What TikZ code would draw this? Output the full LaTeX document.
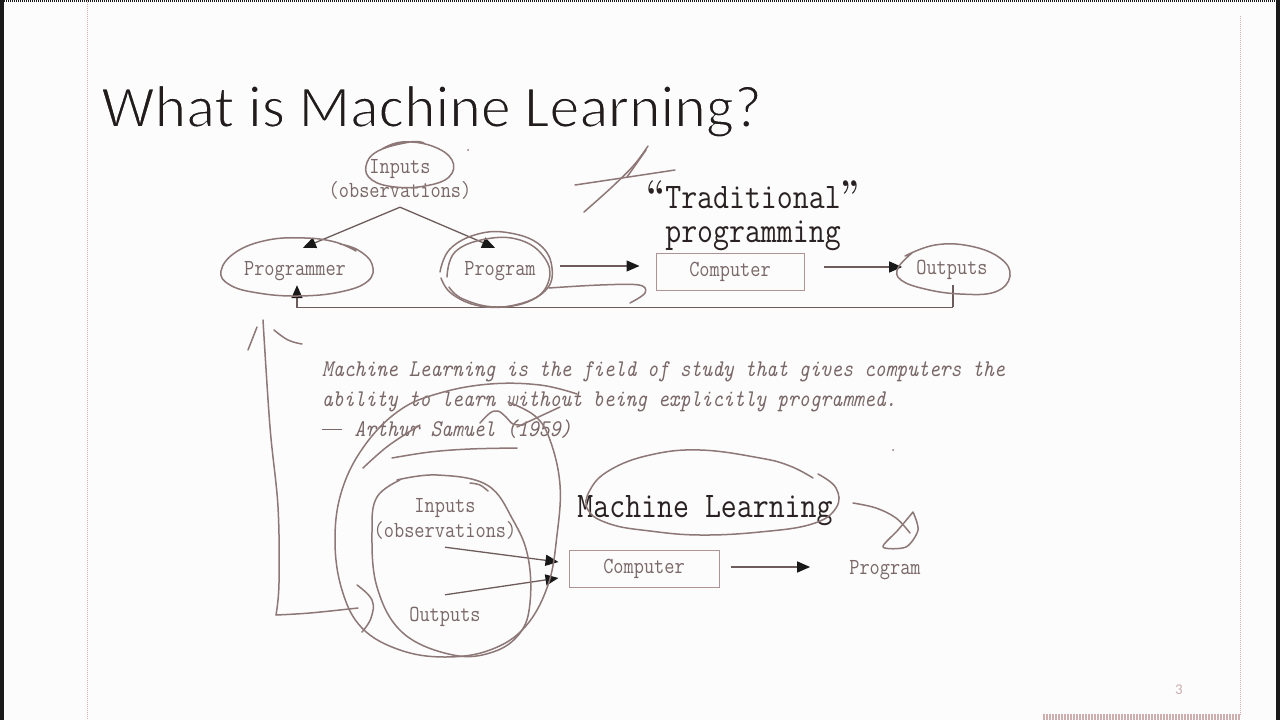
\documentclass[tikz,border=0pt]{standalone}
\usepackage{fontspec}
\newfontfamily\titlefont{Carlito}
\usetikzlibrary{arrows.meta,calc}

\definecolor{pagec}{HTML}{FCFCFC}
\definecolor{edgec}{HTML}{1A1A1A}
\definecolor{guidec}{HTML}{CDAFAF}
\definecolor{titlec}{HTML}{221C1C}
\definecolor{txtc}{HTML}{7A6868}
\definecolor{darkc}{HTML}{2A2222}
\definecolor{linec}{HTML}{6E5C5C}
\definecolor{boxc}{HTML}{AE9494}
\definecolor{penc}{HTML}{8E7777}

% horizontally condensed typewriter text
\newcommand\sqz[1]{\scalebox{0.86}[1]{#1}}
% light title weight: outline the glyphs in the page colour
\newcommand\thinglyphs[1]{%
  \special{pdf:literal direct 2 Tr 1.6 w 0.988 0.988 0.988 RG}#1%
  \special{pdf:literal direct 0 Tr}}
% heavy curly quotes
\newcommand\oquote{{\rmfamily\bfseries\fontsize{40}{40}\selectfont“}}
\newcommand\cquote{{\rmfamily\bfseries\fontsize{40}{40}\selectfont”}}

\begin{document}
\begin{tikzpicture}[x=1pt,y=-1pt,
  dtxt/.style={inner sep=0pt, text height=14pt, text depth=5pt, anchor=base,
    text=txtc, font=\ttfamily\fontsize{23}{26}\selectfont},
  bigtxt/.style={inner sep=0pt, anchor=base, text=darkc,
    font=\ttfamily\fontsize{36}{40}\selectfont},
  qtxt/.style={inner sep=0pt, anchor=base west, text=txtc,
    font=\ttfamily\itshape\fontsize{24}{28}\selectfont},
  compbox/.style={draw=boxc, line width=1pt, inner sep=0pt, text=txtc,
    font=\ttfamily\fontsize{23}{26}\selectfont},
  conn/.style={draw=linec, line width=1.3pt,
    -{Triangle[length=13pt,width=11pt,color=black!90]}},
  feed/.style={draw=linec, line width=1.3pt},
  pen/.style={draw=penc, line width=1.5pt, line cap=round, line join=round},
]
\useasboundingbox (0,0) rectangle (1280,720);

% page, window edges and slide guides
\fill[pagec] (0,0) rectangle (1280,720);
\fill[edgec] (0,0) rectangle (4,720);
\fill[edgec] (1276,0) rectangle (1280,720);
\draw[edgec, line width=1.5pt, dash pattern=on 1pt off 1pt] (0,0.75) -- (1280,0.75);
\draw[guidec, line width=1pt, dash pattern=on 1pt off 1pt] (87,0) -- (87,720);
\draw[guidec, line width=1pt, dash pattern=on 1pt off 1pt] (1240,16) -- (1240,716);
\draw[guidec, line width=6pt, dash pattern=on 2pt off 1pt] (1043,717) -- (1240,717);

% title and page number
\node[anchor=base west, inner sep=0pt, text=titlec,
  font=\titlefont\fontsize{60}{64}\selectfont] (title) at (101,127)
  {\thinglyphs{What is Machine Learning?}};
\node[inner sep=0pt, text=guidec, font=\titlefont\fontsize{15}{16}\selectfont]
  (pnum) at (1179,690) {3};

% ---------- traditional programming ----------
\node[dtxt] (inp) at (400,173) {\sqz{Inputs}};
\node[dtxt] (obs) at (400,197) {\sqz{(observations)}};
\coordinate (apex) at ([yshift=-5pt]obs.south);
\node[dtxt] (pgmr) at (295,275) {\sqz{Programmer}};
\node[dtxt] (prog) at (500,275) {\sqz{Program}};
\node[compbox, minimum width=148pt, minimum height=37pt] (comp) at (730,271.5)
  {\sqz{Computer}};
\node[dtxt] (outs) at (952,274) {\sqz{Outputs}};
\node[bigtxt] (trad) at (753,208) {\sqz{\oquote Traditional\cquote}};
\node[bigtxt] (prgm) at (753,242) {\sqz{programming}};

\draw[conn] (apex) -- ([xshift=8pt,yshift=13pt]pgmr.north);
\draw[conn] (apex) -- ([xshift=-5pt,yshift=13pt]prog.north);
\draw[conn] ([xshift=24pt,yshift=4.5pt]prog.east) -- ([xshift=-16pt,yshift=5.5pt]comp.west);
\draw[conn] ([xshift=19pt,yshift=4.5pt]comp.east) -- ([xshift=-14pt,yshift=2.5pt]outs.west);
\draw[feed] ([xshift=1pt,yshift=-6pt]outs.south) -- ++(0,22) coordinate (fb);
\draw[conn] (fb) -| ([xshift=2pt,yshift=-5pt]pgmr.south);

% ---------- quotation ----------
\node[qtxt] (q1) at (322,376)
  {\sqz{Machine Learning is the field of study that gives computers the}};
\node[qtxt] (q2) at (322,406)
  {\sqz{ability to learn without being explicitly programmed.}};
\node[qtxt] (q3) at (322,436)
  {\sqz{\makebox[1.05em][l]{\rule[0.26em]{0.95em}{0.05em}}\ Arthur Samuel (1959)}};

% ---------- machine learning ----------
\node[dtxt] (binp) at (445,512) {\sqz{Inputs}};
\node[dtxt] (bobs) at (445,537) {\sqz{(observations)}};
\node[dtxt] (bout) at (445,621) {\sqz{Outputs}};
\node[compbox, minimum width=150pt, minimum height=37pt] (bcomp) at (644,568.5)
  {\sqz{Computer}};
\node[dtxt] (bprog) at (885,574) {\sqz{Program}};
\node[bigtxt] (ml) at (705,517) {\sqz{Machine Learning}};

\draw[conn] ([yshift=-5pt]bobs.south) -- ([xshift=-10pt,yshift=6.5pt]bcomp.west);
\draw[conn] ([yshift=12pt]bout.north) -- ([xshift=-10pt,yshift=-9.5pt]bcomp.west);
\draw[conn] ([xshift=11pt,yshift=1.5pt]bcomp.east) -- ([xshift=-39pt,yshift=2.5pt]bprog.west);

% ---------- pen marks ----------
% loop round the top inputs
\draw[pen] plot[smooth, tension=0.7] coordinates {(382,149) (402,142) (432,146) (452,160)
  (449,177) (425,186) (395,187) (372,180) (366,166) (378,151) (410,142) (424,143)};
% loop round the programmer
\draw[pen] plot[smooth, tension=0.7] coordinates {(356,251) (335,242) (305,238) (268,240)
  (236,252) (221,271) (230,285) (258,293) (298,296) (340,292) (368,281) (372,264) (358,250) (340,244)};
% double loop round the program
\draw[pen] plot[smooth, tension=0.7] coordinates {(440,272) (450,249) (478,234) (510,233)
  (540,245) (552,268) (545,291) (515,305) (480,306) (452,294) (441,278)};
\draw[pen] plot[smooth, tension=0.7] coordinates {(447,277) (455,252) (486,239) (520,240)
  (544,257) (549,280) (532,300) (496,307) (463,299) (449,287)};
\draw[pen] plot[smooth, tension=0.6] coordinates {(549,288) (600,285) (639,285) (645,293) (630,303)};
% loop round the outputs
\draw[pen] plot[smooth, tension=0.7] coordinates {(905,256) (935,245) (970,246) (1000,258)
  (1010,276) (995,292) (960,294) (925,289) (901,280) (898,268) (912,253)};
% crossed strokes
\draw[pen] plot[smooth, tension=0.6] coordinates {(575,185) (622,178) (675,170)};
\draw[pen] plot[smooth, tension=0.6] coordinates {(584,212) (612,187) (634,165) (648,146)};
\draw[pen] plot[smooth, tension=0.6] coordinates {(627,177) (639,160) (646,150)};
% dots
\fill[penc] (468,150) circle (1pt);
\fill[penc] (893,450) circle (1pt);

% long hand-drawn arrow back to the programmer
\draw[pen] plot[smooth, tension=0.6] coordinates {(263,320) (270,427) (278,507) (279,583) (276,615)};
\draw[pen] plot[smooth, tension=0.6] coordinates {(276,615) (310,613) (358,608)};
\draw[pen] (257,327) -- (248,350);
\draw[pen] plot[smooth, tension=0.7] coordinates {(274,330) (288,340) (302,344)};

% large loop round inputs and outputs
\draw[pen] plot[smooth, tension=0.65] coordinates {(577,394) (540,385) (490,384) (440,393)
  (400,410) (365,445) (342,490) (335,540) (342,590) (362,628) (400,650) (445,657)
  (490,650) (525,627) (548,585) (557,535) (560,485) (550,440) (535,416) (508,402)};
\draw[pen] plot[smooth, tension=0.6] coordinates {(363,468) (388,446) (420,425)};
\draw[pen] plot[smooth, tension=0.6] coordinates {(480,423) (490,413) (498,411) (506,417) (513,424) (523,425)};
\draw[pen] (517,427) -- (560,407);
\draw[pen] plot[smooth, tension=0.6] coordinates {(392,458) (430,452) (470,449) (517,448)};
% inner loop
\draw[pen] plot[smooth, tension=0.65] coordinates {(397,480) (437,475) (487,485) (513,520)
  (528,557) (530,603) (520,633) (493,652) (453,655) (403,633) (377,587) (372,530) (377,497) (400,480)};
\draw[pen] plot[smooth, tension=0.6] coordinates {(470,483) (480,485) (488,491)};
\draw[pen] plot[smooth, tension=0.7] coordinates {(357,585) (372,600) (371,618) (362,632)};

% loop round machine learning and the mark beside it
\draw[pen] plot[smooth, tension=0.7] coordinates {(813,478) (790,466) (760,458) (700,450)
  (650,455) (610,470) (590,490) (588,510) (610,524) (650,531) (700,535) (760,532)
  (812,524) (836,508) (836,488) (818,474)};
\draw[pen] plot[smooth, tension=0.6] coordinates {(853,503) (876,508) (896,518) (910,533)};
\draw[pen] plot[smooth, tension=0.5] coordinates {(913,512) (898,530) (883,547) (906,547) (918,530) (913,512)};
\end{tikzpicture}
\end{document}
